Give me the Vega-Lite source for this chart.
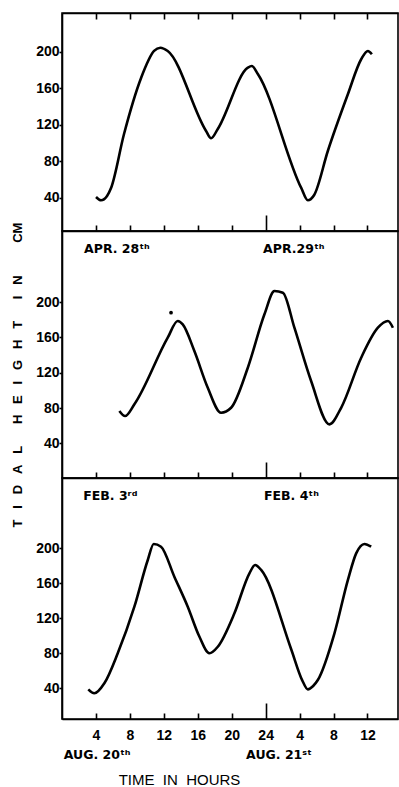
{
  "$schema": "https://vega.github.io/schema/vega-lite/v6.json",
  "padding": {"left": 10, "top": 11, "right": 0, "bottom": 0},
  "spacing": 0,
  "bounds": "flush",
  "background": "white",
  "resolve": {"scale": {"x": "independent", "y": "independent"}},
  "config": {
    "font": "Liberation Sans",
    "view": {"stroke": "black", "strokeWidth": 1.6},
    "axis": {
      "grid": false,
      "domainColor": "black",
      "domainWidth": 1.6,
      "tickColor": "black",
      "tickWidth": 1.6,
      "labelColor": "black",
      "labelFont": "Liberation Sans",
      "labelFontWeight": "bold",
      "labelFontSize": 14,
      "titleColor": "black"
    },
    "line": {"color": "black", "strokeWidth": 2.6, "interpolate": "monotone"}
  },
  "datasets": {
    "apr": [
      {"hour": 4.01, "cm": 40.8}, {"hour": 4.6, "cm": 37.2}, {"hour": 5.31, "cm": 41.9},
      {"hour": 5.78, "cm": 50.6}, {"hour": 7.31, "cm": 109.8}, {"hour": 9.32, "cm": 171.2},
      {"hour": 10.85, "cm": 200.8}, {"hour": 11.59, "cm": 204.4}, {"hour": 12.46, "cm": 200.8},
      {"hour": 16.98, "cm": 113.1}, {"hour": 17.57, "cm": 105.1}, {"hour": 18.36, "cm": 115.3},
      {"hour": 21.9, "cm": 182.5}, {"hour": 22.37, "cm": 184.3}, {"hour": 23.08, "cm": 175.6},
      {"hour": 28.18, "cm": 51}, {"hour": 28.97, "cm": 37.2}, {"hour": 29.72, "cm": 43},
      {"hour": 31.33, "cm": 91.2}, {"hour": 33.69, "cm": 153.3}, {"hour": 35.26, "cm": 191.7},
      {"hour": 36.05, "cm": 200.8}, {"hour": 36.52, "cm": 197.2}
    ],
    "feb": [
      {"hour": 6.76, "cm": 76.6}, {"hour": 7.43, "cm": 70.9}, {"hour": 8.53, "cm": 84.2},
      {"hour": 12.46, "cm": 159.7}, {"hour": 13.64, "cm": 178.6},
      {"hour": 14.23, "cm": 174.8}, {"hour": 15.6, "cm": 144.6}, {"hour": 17.18, "cm": 103},
      {"hour": 18.75, "cm": 74.7}, {"hour": 19.93, "cm": 80.3}, {"hour": 21.9, "cm": 125.7},
      {"hour": 23.86, "cm": 186.2}, {"hour": 25.04, "cm": 212.6}, {"hour": 26.03, "cm": 210.7},
      {"hour": 27.39, "cm": 171}, {"hour": 29.36, "cm": 110.6}, {"hour": 31.52, "cm": 61.5},
      {"hour": 32.9, "cm": 80.3}, {"hour": 35.26, "cm": 137}, {"hour": 37.23, "cm": 171},
      {"hour": 38.41, "cm": 178.6}, {"hour": 39.0, "cm": 171}
    ],
    "aug": [
      {"hour": 3.1, "cm": 38.5}, {"hour": 3.81, "cm": 34}, {"hour": 4.99, "cm": 45.4},
      {"hour": 6.57, "cm": 79.7}, {"hour": 8.53, "cm": 132.9}, {"hour": 10.11, "cm": 186.3},
      {"hour": 10.81, "cm": 204.6}, {"hour": 11.67, "cm": 201.5}, {"hour": 13.24, "cm": 167.2},
      {"hour": 14.82, "cm": 132.9}, {"hour": 16.16, "cm": 99.4}, {"hour": 17.37, "cm": 79.7},
      {"hour": 18.36, "cm": 87.2}, {"hour": 20.32, "cm": 125.4}, {"hour": 22.09, "cm": 171.1},
      {"hour": 22.76, "cm": 180.6}, {"hour": 23.47, "cm": 174.9}, {"hour": 27.0, "cm": 84.6},
      {"hour": 28.3, "cm": 49.1}, {"hour": 28.97, "cm": 38.5}, {"hour": 29.6, "cm": 42.3},
      {"hour": 30.15, "cm": 49.1}, {"hour": 32.11, "cm": 102.5}, {"hour": 33.69, "cm": 163.4},
      {"hour": 34.67, "cm": 193.9}, {"hour": 35.65, "cm": 204.6}, {"hour": 36.44, "cm": 201.5}
    ],
    "aprLabels": [
      {"hour": 2.6, "cm": 260, "label": "APR. 28ᵗʰ"},
      {"hour": 23.7, "cm": 260, "label": "APR.29ᵗʰ"}
    ],
    "febLabels": [
      {"hour": 2.5, "cm": 260, "label": "FEB. 3ʳᵈ"},
      {"hour": 23.8, "cm": 260, "label": "FEB. 4ᵗʰ"}
    ],
    "augLabels": [
      {"hour": 0.2, "cm": -37, "label": "AUG. 20ᵗʰ"},
      {"hour": 21.7, "cm": -37, "label": "AUG. 21ˢᵗ"}
    ],
    "dot": [{"hour": 12.85, "cm": 188}]
  },
  "vconcat": [
    {
      "width": 336,
      "height": 218,
      "resolve": {"axis": {"x": "independent"}},
      "layer": [
        {
          "data": {"name": "apr"},
          "mark": {"type": "line"},
          "encoding": {
            "x": {"field": "hour", "type": "quantitative",
              "scale": {"domain": [0, 39.6], "nice": false, "zero": false},
              "axis": {"orient": "bottom", "title": null, "labels": false, "values": [4, 8, 12, 16, 20, 24, 28, 32, 36],
                "tickSize": {"condition": {"test": "datum.value === 24", "value": -16}, "value": -6}}},
            "y": {"field": "cm", "type": "quantitative",
              "scale": {"domain": [3.5, 242.4], "nice": false, "zero": false},
              "axis": {"title": null, "values": [40, 80, 120, 160, 200], "tickSize": 3, "labelPadding": 0}}
          }
        },
        {
          "data": {"name": "apr"},
          "mark": {"type": "point", "opacity": 0},
          "encoding": {
            "x": {"field": "hour", "type": "quantitative",
              "axis": {"orient": "top", "title": null, "labels": false, "values": [4, 8, 12, 16, 20, 24, 28, 32, 36], "tickSize": -6}}
          }
        }
      ]
    },
    {
      "width": 336,
      "height": 247,
      "layer": [
        {
          "data": {"name": "feb"},
          "mark": {"type": "line"},
          "encoding": {
            "x": {"field": "hour", "type": "quantitative",
              "scale": {"domain": [0, 39.6], "nice": false, "zero": false},
              "axis": {"title": null, "labels": false, "values": [4, 8, 12, 16, 20, 24, 28, 32, 36],
                "tickSize": {"condition": {"test": "datum.value === 24", "value": -16}, "value": -6}}},
            "y": {"field": "cm", "type": "quantitative",
              "scale": {"domain": [0.7, 280.6], "nice": false, "zero": false},
              "axis": {"title": "T\u00a0\u00a0\u00a0I\u00a0\u00a0\u00a0D\u00a0\u00a0\u00a0A\u00a0\u00a0\u00a0L\u00a0\u00a0\u00a0\u00a0\u00a0\u00a0H\u00a0\u00a0\u00a0E\u00a0\u00a0\u00a0I\u00a0\u00a0\u00a0G\u00a0\u00a0\u00a0H\u00a0\u00a0\u00a0T\u00a0\u00a0\u00a0\u00a0\u00a0\u00a0I\u00a0\u00a0\u00a0N\u00a0\u00a0\u00a0\u00a0\u00a0\u00a0\u00a0\u00a0\u00a0CM",
                "values": [40, 80, 120, 160, 200], "tickSize": 3, "labelPadding": 0,
                "titleX": -44.5, "titleY": 143.5, "titleAngle": -90, "titleAlign": "center", "titleBaseline": "middle",
                "titleFont": "Liberation Sans", "titleFontSize": 13, "titleFontWeight": "bold"}}
          }
        },
        {
          "data": {"name": "dot"},
          "mark": {"type": "circle", "color": "black", "size": 14, "opacity": 1},
          "encoding": {
            "x": {"field": "hour", "type": "quantitative"},
            "y": {"field": "cm", "type": "quantitative"}
          }
        },
        {
          "data": {"name": "aprLabels"},
          "mark": {"type": "text", "align": "left", "baseline": "middle", "font": "DejaVu Sans", "fontWeight": "bold", "fontSize": 12.5, "color": "black"},
          "encoding": {
            "x": {"field": "hour", "type": "quantitative"},
            "y": {"field": "cm", "type": "quantitative"},
            "text": {"field": "label"}
          }
        }
      ]
    },
    {
      "width": 336,
      "height": 241,
      "layer": [
        {
          "data": {"name": "aug"},
          "mark": {"type": "line"},
          "encoding": {
            "x": {"field": "hour", "type": "quantitative",
              "scale": {"domain": [0, 39.6], "nice": false, "zero": false},
              "axis": {"title": "TIME\u00a0\u00a0IN\u00a0\u00a0HOURS", "values": [4, 8, 12, 16, 20, 24, 28, 32, 36],
                "labelExpr": "datum.value > 24 ? datum.value - 24 : datum.value",
                "labelPadding": {"condition": {"test": "datum.value === 24", "value": 25}, "value": 15},
                "tickSize": {"condition": {"test": "datum.value === 24", "value": -16}, "value": -6},
                "titleX": 117, "titleY": 60, "titleAlign": "center", "titleBaseline": "middle",
                "titleFont": "Liberation Sans", "titleFontSize": 15, "titleFontWeight": "normal"}},
            "y": {"field": "cm", "type": "quantitative",
              "scale": {"domain": [4.6, 280], "nice": false, "zero": false},
              "axis": {"title": null, "values": [40, 80, 120, 160, 200], "tickSize": 3, "labelPadding": 0}}
          }
        },
        {
          "data": {"name": "febLabels"},
          "mark": {"type": "text", "align": "left", "baseline": "middle", "font": "DejaVu Sans", "fontWeight": "bold", "fontSize": 12.5, "color": "black"},
          "encoding": {
            "x": {"field": "hour", "type": "quantitative"},
            "y": {"field": "cm", "type": "quantitative"},
            "text": {"field": "label"}
          }
        },
        {
          "data": {"name": "augLabels"},
          "mark": {"type": "text", "align": "left", "baseline": "middle", "font": "DejaVu Sans", "fontWeight": "bold", "fontSize": 12.5, "color": "black"},
          "encoding": {
            "x": {"field": "hour", "type": "quantitative"},
            "y": {"field": "cm", "type": "quantitative"},
            "text": {"field": "label"}
          }
        }
      ]
    }
  ]
}
